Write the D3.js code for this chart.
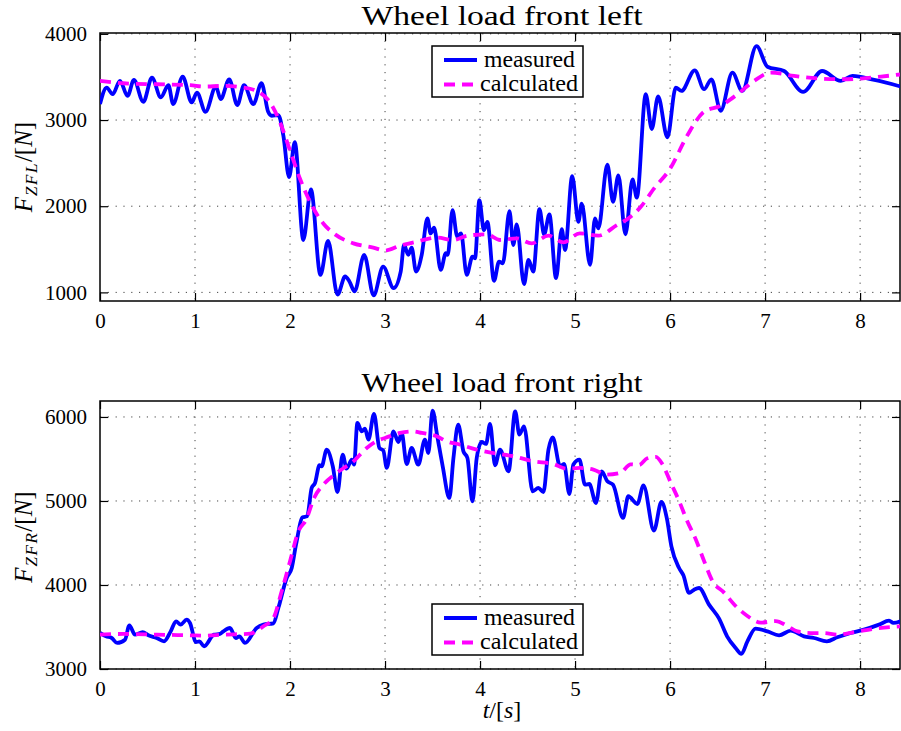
<!DOCTYPE html>
<html><head><meta charset="utf-8">
<script src="https://cdn.jsdelivr.net/npm/d3@7"></script>
<style>body{margin:0;background:#fff}svg{display:block}text{font-family:"Liberation Serif","DejaVu Serif",serif;fill:#000}</style>
</head><body><div id="chart"></div>
<script>
const xTicks=[0,1,2,3,4,5,6,7,8];
const yTicksTop=[1000,2000,3000,4000];
const yTicksBottom=[3000,4000,5000,6000];
const titles=["Wheel load front left","Wheel load front right"];
const seriesNames=["measured","calculated"];

const tFLmeas=[0,0.07,0.133,0.21,0.29,0.357,0.456,0.547,0.64,0.72,0.77,0.87,0.965,1.02,1.11,1.22,1.27,1.36,1.445,1.516,1.614,1.70,1.77,1.807,1.877,1.93,1.99,2.05,2.14,2.22,2.32,2.40,2.50,2.58,2.625,2.68,2.78,2.88,2.98,3.09,3.165,3.2,3.245,3.28,3.326,3.386,3.446,3.48,3.516,3.586,3.64,3.66,3.71,3.76,3.8,3.86,3.92,3.947,3.993,4.04,4.077,4.147,4.2,4.24,4.31,4.35,4.386,4.463,4.51,4.56,4.625,4.674,4.73,4.8,4.86,4.895,4.97,5.035,5.07,5.158,5.21,5.245,5.34,5.40,5.456,5.53,5.605,5.65,5.744,5.807,5.874,5.972,6.06,6.12,6.26,6.358,6.435,6.533,6.656,6.76,6.91,7.025,7.2,7.40,7.60,7.796,7.92,8.15,8.44];
const vFLmeas=[3185,3377,3300,3454,3280,3465,3211,3492,3262,3404,3185,3504,3204,3319,3096,3388,3242,3473,3173,3404,3185,3427,3096,3050,3058,2819,2338,2742,1608,2196,1204,1596,973,1185,1127,1012,1435,965,1300,1050,1242,1550,1435,1519,1242,1435,1858,1685,1750,1262,1454,1435,1954,1646,1685,1204,1415,1396,2069,1723,1819,1135,1358,1338,1942,1550,1788,1096,1377,1242,1965,1673,1904,1165,1735,1492,2350,1819,2031,1319,1858,1742,2481,2050,2358,1673,2310,2100,3300,2896,3273,2800,3377,3338,3577,3358,3473,3108,3550,3338,3858,3619,3569,3327,3569,3454,3512,3465,3385];

const tFLcalc=[0,0.246,0.6,0.95,1.09,1.3,1.51,1.68,1.79,1.895,2.0,2.105,2.228,2.35,2.474,2.667,2.877,3.0,3.158,3.333,3.544,3.72,3.867,4.07,4.21,4.386,4.544,4.72,4.877,5.05,5.245,5.44,5.56,5.69,5.83,6.0,6.18,6.358,6.53,6.71,6.884,7.06,7.305,7.586,7.796,8.007,8.22,8.44];
const vFLcalc=[3454,3427,3415,3404,3388,3396,3377,3319,3204,2973,2646,2319,2012,1800,1673,1569,1519,1485,1542,1588,1635,1608,1658,1673,1608,1627,1569,1658,1581,1685,1658,1781,1858,1990,2204,2435,2819,3096,3165,3300,3454,3550,3512,3481,3473,3481,3504,3531];

const tFRmeas=[0,0.063,0.123,0.18,0.263,0.309,0.368,0.449,0.509,0.596,0.674,0.744,0.8,0.849,0.912,0.947,1.01,1.045,1.095,1.2,1.263,1.298,1.368,1.43,1.467,1.526,1.649,1.72,1.825,1.877,1.965,2.018,2.063,2.133,2.18,2.228,2.263,2.31,2.333,2.386,2.45,2.5,2.554,2.596,2.65,2.674,2.709,2.754,2.789,2.825,2.884,2.94,2.982,3.018,3.088,3.14,3.175,3.228,3.28,3.35,3.42,3.456,3.5,3.55,3.607,3.677,3.72,3.77,3.825,3.867,3.92,3.965,4.018,4.063,4.105,4.158,4.21,4.3,4.37,4.414,4.463,4.554,4.614,4.667,4.72,4.765,4.842,4.884,4.94,4.982,5.046,5.105,5.15,5.22,5.28,5.34,5.4,5.505,5.56,5.656,5.72,5.83,5.909,5.965,6.014,6.095,6.14,6.2,6.253,6.305,6.41,6.516,6.6,6.69,6.75,6.814,6.9,7.025,7.147,7.27,7.41,7.516,7.65,7.76,7.9,8.04,8.2,8.305,8.35,8.44];
const vFRmeas=[3429,3389,3369,3310,3349,3520,3409,3440,3401,3369,3329,3448,3567,3528,3587,3548,3321,3329,3270,3409,3417,3448,3488,3369,3389,3310,3488,3528,3544,3726,4083,4202,4480,4806,4817,5155,5214,5425,5413,5611,5413,5107,5552,5385,5492,5433,5929,5829,5861,5730,6036,5631,5599,5393,5829,5702,5810,5440,5631,5433,5730,5571,6075,5770,5413,5036,5512,5909,5591,5512,4996,5512,5702,5679,5917,5425,5611,5353,6067,5790,5889,5115,5155,5107,5611,5758,5413,5440,5083,5433,5492,5194,5202,4976,5353,5234,5194,4798,5056,4964,5186,4647,4988,4798,4460,4202,4115,3905,3944,3964,3766,3599,3389,3250,3179,3329,3480,3448,3401,3456,3389,3369,3329,3377,3429,3468,3528,3575,3548,3575];

const tFRcalc=[0,0.246,0.6,0.947,1.09,1.3,1.58,1.72,1.825,1.912,2.0,2.088,2.17,2.253,2.35,2.49,2.667,2.807,2.947,3.0,3.158,3.298,3.386,3.544,3.649,3.79,3.965,4.14,4.35,4.56,4.77,4.91,5.05,5.193,5.333,5.474,5.586,5.674,5.76,5.85,5.92,6.007,6.095,6.18,6.27,6.358,6.446,6.568,6.69,6.814,6.954,7.112,7.235,7.34,7.48,7.62,7.76,7.94,8.15,8.44];
const vFRcalc=[3409,3417,3409,3401,3397,3409,3420,3508,3607,3925,4282,4639,4778,5036,5194,5333,5472,5631,5730,5750,5810,5829,5810,5770,5710,5671,5611,5571,5532,5472,5440,5385,5393,5373,5313,5333,5436,5428,5508,5524,5436,5218,5000,4762,4544,4286,4048,3909,3750,3631,3552,3571,3512,3448,3428,3428,3409,3440,3480,3508];

const W=901,H=731;
const FONT="'Liberation Serif','DejaVu Serif',serif";
const svg=d3.select("#chart").append("svg").attr("width",W).attr("height",H);
const x=d3.scaleLinear().domain([0,8.42]).range([100,900]);

const panels=[
 {top:33,bottom:301,dom:[900,4010],ticks:yTicksTop,title:titles[0],titleY:25,meas:[tFLmeas,vFLmeas],calc:[tFLcalc,vFLcalc],legendTop:46,sub:"ZFL",ylabY:167},
 {top:401,bottom:669,dom:[3000,6190],ticks:yTicksBottom,title:titles[1],titleY:392,meas:[tFRmeas,vFRmeas],calc:[tFRcalc,vFRcalc],legendTop:604,sub:"ZFR",ylabY:537}
];

panels.forEach((p,i)=>{
  const y=d3.scaleLinear().domain(p.dom).range([p.bottom,p.top]);
  const g=svg.append("g");
  const cid="clip"+i;
  svg.append("clipPath").attr("id",cid).append("rect").attr("x",100).attr("y",p.top).attr("width",800).attr("height",p.bottom-p.top);
  const grid=g.append("g").attr("stroke","#444").attr("stroke-width",1).attr("stroke-dasharray","1.2,6.6");
  xTicks.forEach(t=>{ if(t>0) grid.append("line").attr("x1",x(t)).attr("x2",x(t)).attr("y1",p.top).attr("y2",p.bottom);});
  p.ticks.forEach(v=>{ grid.append("line").attr("x1",100).attr("x2",900).attr("y1",y(v)).attr("y2",y(v));});
  const xa=g.append("g").attr("transform",`translate(0,${p.bottom})`).call(d3.axisBottom(x).tickValues(xTicks).tickSize(-8).tickPadding(12).tickFormat(d3.format("d")));
  const xt=g.append("g").attr("transform",`translate(0,${p.top})`).call(d3.axisTop(x).tickValues(xTicks).tickSize(-8).tickFormat(""));
  const ya=g.append("g").attr("transform",`translate(100,0)`).call(d3.axisLeft(y).tickValues(p.ticks).tickSize(-8).tickPadding(13).tickFormat(d3.format("d")));
  const yr=g.append("g").attr("transform",`translate(900,0)`).call(d3.axisRight(y).tickValues(p.ticks).tickSize(-8).tickFormat(""));
  [xa,xt,ya,yr].forEach(a=>{a.attr("font-family",FONT).attr("font-size",21);a.selectAll(".domain").remove();a.selectAll("line").attr("stroke","#000").attr("stroke-width",1.2);
    a.selectAll("text").attr("font-family",FONT).style("font-family",FONT).style("font-size","21px").attr("fill","#000");});
  xa.selectAll("text").attr("dy","0.71em");
  g.append("rect").attr("x",100).attr("y",p.top).attr("width",800).attr("height",p.bottom-p.top).attr("fill","none").attr("stroke","#000").attr("stroke-width",1.5);
  const line=d3.line().x(d=>x(d[0])).y(d=>y(d[1])).curve(d3.curveMonotoneX);
  const meas=p.meas[0].map((t,k)=>[t,p.meas[1][k]]);
  const calc=p.calc[0].map((t,k)=>[t,p.calc[1][k]]);
  const lg=g.append("g").attr("clip-path",`url(#${cid})`);
  lg.append("path").attr("d",line(meas)).attr("fill","none").attr("stroke","#0000ff").attr("stroke-width",3.8).attr("stroke-linejoin","round");
  lg.append("path").attr("d",line(calc)).attr("fill","none").attr("stroke","#ff00ff").attr("stroke-width",3.8).attr("stroke-dasharray","11,7");
  svg.append("text").attr("x",502).attr("y",p.titleY).attr("text-anchor","middle").style("font-family",FONT).style("font-size","28px").attr("textLength",281).attr("lengthAdjust","spacingAndGlyphs").text(p.title);
  const yl=svg.append("text").attr("transform",`translate(32,${p.ylabY}) rotate(-90)`).attr("text-anchor","middle").style("font-family",FONT).style("font-size","25px");
  yl.append("tspan").style("font-style","italic").text("F");
  yl.append("tspan").style("font-style","italic").style("font-size","17px").style("letter-spacing","1.5px").attr("dy",5).attr("dx",1).text(p.sub);
  yl.append("tspan").attr("dy",-5).text("/[");
  yl.append("tspan").style("font-style","italic").text("N");
  yl.append("tspan").text("]");
  const L=svg.append("g").attr("transform",`translate(432,${p.legendTop})`);
  L.append("rect").attr("width",151).attr("height",51).attr("fill","#fff").attr("stroke","#000").attr("stroke-width",1.5);
  L.append("line").attr("x1",12).attr("x2",45).attr("y1",14).attr("y2",14).attr("stroke","#0000ff").attr("stroke-width",3.8);
  L.append("line").attr("x1",12).attr("x2",45).attr("y1",38.5).attr("y2",38.5).attr("stroke","#ff00ff").attr("stroke-width",3.8).attr("stroke-dasharray","11,7");
  L.append("text").attr("x",52).attr("y",21).style("font-family",FONT).style("font-size","23px").attr("textLength",91).attr("lengthAdjust","spacingAndGlyphs").text(seriesNames[0]);
  L.append("text").attr("x",48).attr("y",45).style("font-family",FONT).style("font-size","23px").attr("textLength",98).attr("lengthAdjust","spacingAndGlyphs").text(seriesNames[1]);
});
const xl=svg.append("text").attr("x",502).attr("y",718).attr("text-anchor","middle").style("font-family",FONT).style("font-size","24px");
xl.append("tspan").style("font-style","italic").text("t");
xl.append("tspan").text("/[");
xl.append("tspan").style("font-style","italic").text("s");
xl.append("tspan").text("]");
</script></body></html>
